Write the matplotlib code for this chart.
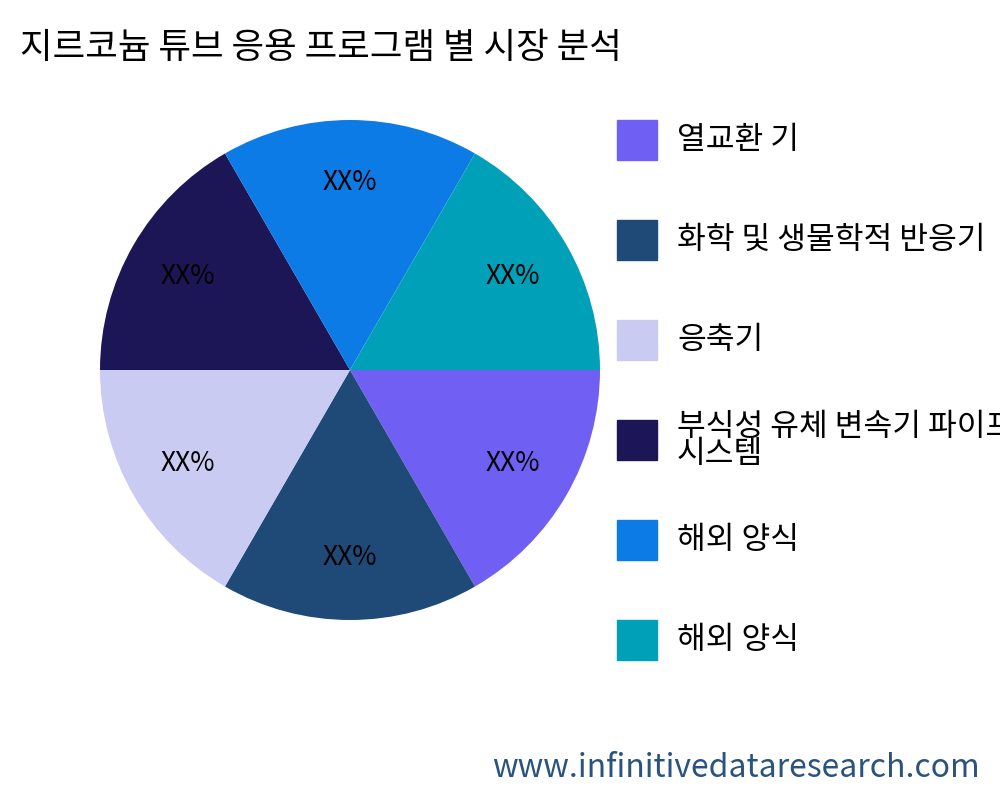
import matplotlib
matplotlib.use("Agg")
import matplotlib.pyplot as plt
from matplotlib.patches import Rectangle

plt.rcParams['font.family'] = ['Noto Sans CJK KR', 'DejaVu Sans']

labels = ["열교환 기", "화학 및 생물학적 반응기", "응축기", "부식성 유체 변속기 파이프\n시스템", "해외 양식", "해외 양식"]
values = [1, 1, 1, 1, 1, 1]
colors = ["#6f5ff2", "#1f4a78", "#c9cbf2", "#1c1656", "#0c7be6", "#00a0b8"]

fig = plt.figure(figsize=(10, 8), dpi=100)
ax = fig.add_axes([0.1, 0.225, 0.5, 0.625])
ax.pie(values, colors=colors, startangle=0, counterclock=False,
       autopct=lambda p: "XX%", pctdistance=0.75,
       textprops=dict(fontsize=19, color="black"))
ax.set_aspect('auto')
ax.set_xlim(-1, 1); ax.set_ylim(-1, 1)

fig.text(0.02, 0.94, "지르코늄 튜브 응용 프로그램 별 시장 분석", fontsize=25.5, va='center', ha='left')

for i, (lab, c) in enumerate(zip(labels, colors)):
    yc = 140 + 100 * i
    fig.patches.append(Rectangle((617 / 1000, 1 - (yc + 20) / 800), 40 / 1000, 40 / 800,
                                 transform=fig.transFigure, color=c))
    fig.text(677 / 1000, 1 - yc / 800, lab, fontsize=22.5, va='center', ha='left', linespacing=0.8)

fig.text(0.98, 1 - 768 / 800, "www.infinitivedataresearch.com", fontsize=23,
         color="#2a5380", ha='right', va='center')

fig.savefig("out.png")
